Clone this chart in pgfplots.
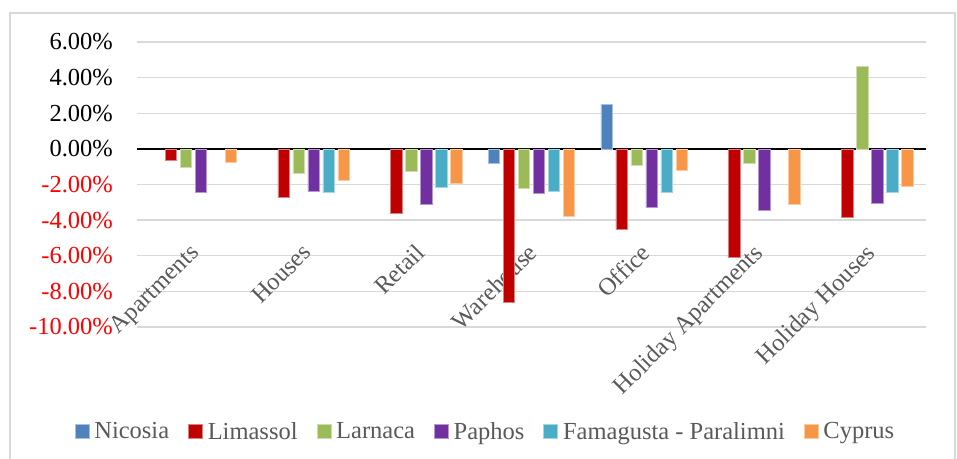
\documentclass[border=0pt]{standalone}
\usepackage{pgfplots}
\pgfplotsset{compat=1.18}
\usepackage{fontspec}
\setmainfont{Liberation Serif}
\definecolor{cNic}{HTML}{4F81BD}
\definecolor{cLim}{HTML}{C00000}
\definecolor{cLar}{HTML}{9BBB59}
\definecolor{cPap}{HTML}{7030A0}
\definecolor{cFam}{HTML}{4BACC6}
\definecolor{cCyp}{HTML}{F79646}
\definecolor{gridgray}{HTML}{D9D9D9}
\definecolor{textgray}{HTML}{595959}
\definecolor{negred}{HTML}{FF0000}
\begin{document}
\begin{tikzpicture}
\draw[color=gridgray, line width=1.3bp] (10bp,-5bp) -- (10bp,446bp) -- (955bp,446bp) -- (955bp,-5bp);
\begin{axis}[
    at={(137bp,132bp)}, anchor=south west,
    scale only axis, width=789bp, height=285bp,
    xmin=-0.5, xmax=6.5, ymin=-10, ymax=6,
    ybar=3.5bp, bar width=11.5bp,
    axis line style={draw=none},
    tick style={draw=none},
    font=\fontsize{24.5bp}{28bp}\selectfont,
    ymajorgrids,
    major grid style={color=gridgray, line width=1.3bp},
    ytick={-10,-8,-6,-4,-2,0,2,4,6},
    yticklabels={\textcolor{negred}{-10.00\%},\textcolor{negred}{-8.00\%},\textcolor{negred}{-6.00\%},\textcolor{negred}{-4.00\%},\textcolor{negred}{-2.00\%},0.00\%,2.00\%,4.00\%,6.00\%},
    yticklabel style={inner sep=0pt, xshift=-24bp},
    extra y ticks={0},
    extra y tick labels={},
    extra y tick style={grid=major, major grid style={color=black, line width=1.6bp}},
    xtick={0,...,6},
    xticklabels={Apartments,Houses,Retail,Warehouse,Office,Holiday Apartments,Holiday Houses},
    xticklabel style={text=textgray, inner sep=0pt, yshift=89bp, xshift=-5bp, rotate=45, anchor=north east},
    legend columns=6,
    legend image code/.code={\fill[#1] (0bp,-7bp) rectangle (14bp,7bp);},
    legend style={at={(0.4436,-0.367)}, anchor=center, draw=none, text=textgray,
        nodes={inner xsep=5bp, inner ysep=0bp},
        /tikz/every even column/.append style={column sep=14bp}},
]
\addplot[fill=cNic, draw=cNic!50!white, line width=0.6bp] coordinates {(3,-0.8) (4,2.48)};
\addlegendentry{Nicosia}
\addplot[fill=cLim, draw=cLim!50!white, line width=0.6bp] coordinates {(0,-0.65) (1,-2.74) (2,-3.6) (3,-8.6) (4,-4.54) (5,-6.08) (6,-3.83)};
\addlegendentry{Limassol}
\addplot[fill=cLar, draw=cLar!50!white, line width=0.6bp] coordinates {(0,-1.02) (1,-1.36) (2,-1.26) (3,-2.2) (4,-0.91) (5,-0.83) (6,4.62)};
\addlegendentry{Larnaca}
\addplot[fill=cPap, draw=cPap!50!white, line width=0.6bp] coordinates {(0,-2.44) (1,-2.39) (2,-3.12) (3,-2.48) (4,-3.29) (5,-3.46) (6,-3.04)};
\addlegendentry{Paphos}
\addplot[fill=cFam, draw=cFam!50!white, line width=0.6bp] coordinates {(1,-2.46) (2,-2.14) (3,-2.37) (4,-2.46) (6,-2.46)};
\addlegendentry{Famagusta - Paralimni}
\addplot[fill=cCyp, draw=cCyp!50!white, line width=0.6bp] coordinates {(0,-0.78) (1,-1.77) (2,-1.92) (3,-3.81) (4,-1.19) (5,-3.12) (6,-2.09)};
\addlegendentry{Cyprus}
\end{axis}
\pgfresetboundingbox
\path[use as bounding box] (0,0) rectangle (957bp,459bp);
\end{tikzpicture}
\end{document}
